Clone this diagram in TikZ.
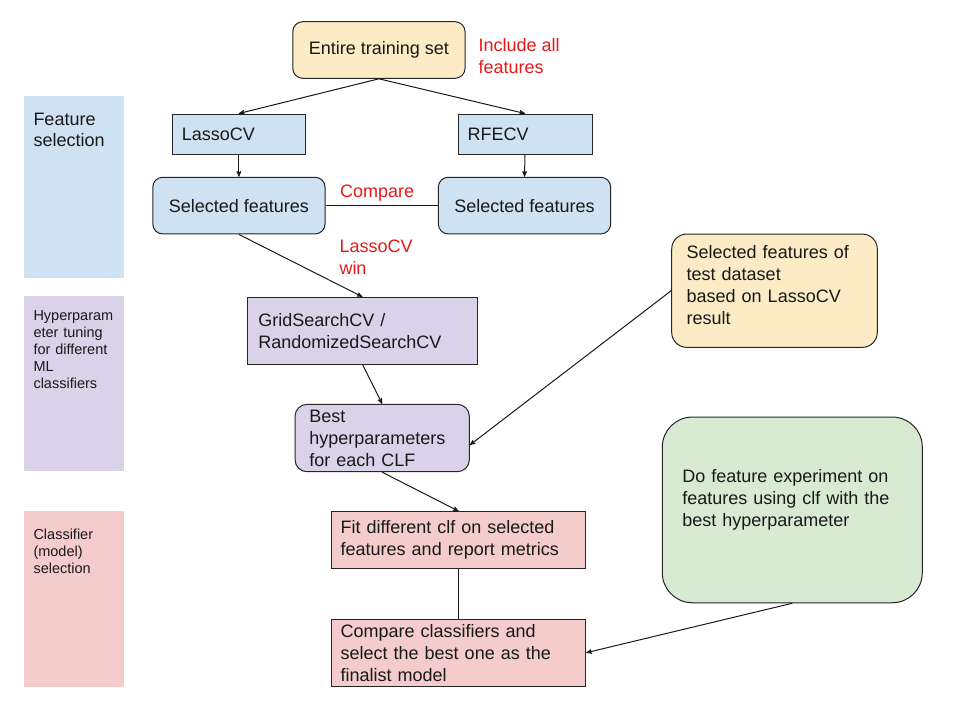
\documentclass[tikz,border=0pt]{standalone}
\usepackage{fontspec}
\setmainfont{Liberation Sans}
\usetikzlibrary{arrows,positioning}
\definecolor{lightyellow}{HTML}{FCEBC5}
\definecolor{lightblue}{HTML}{CFE2F3}
\definecolor{lightpurple}{HTML}{D9D2E9}
\definecolor{lightred}{HTML}{F4CCCC}
\definecolor{lightgreen}{HTML}{D9EAD3}
\definecolor{notered}{RGB}{232,24,24}
\tikzset{
    %Define standard arrow tip
    >=stealth',
    %Define style for boxes
    boks/.style={
           rectangle,
           draw=black!85, line width=1pt,
           inner sep=0pt,
           text=black!90,
           align=left,
           font=\fontsize{18}{22}\selectfont},
    rundboks/.style={
           boks,
           rounded corners=10pt,
           align=center},
    % Define style for the coloured side panels
    felt/.style={
           rectangle,
           inner sep=0pt,
           minimum width=100pt},
    feltnavn/.style={
           anchor=north west,
           inner sep=0pt,
           text width=88pt,
           align=left,
           text=black!90,
           font=\fontsize{14.5}{17}\selectfont},
    % red notes
    merknad/.style={
           anchor=north west,
           inner sep=0pt,
           align=left,
           text=notered,
           font=\fontsize{18}{22}\selectfont},
    % Define arrow style
    pil/.style={
           ->,
           line width=1pt,
           color=black!90},
    linje/.style={
           -,
           line width=1pt,
           color=black!90}
}
\begin{document}
\begin{tikzpicture}[x=1pt,y=-1pt]
\useasboundingbox (0,0) rectangle (960,720);
 %panels
\node[felt, fill=lightblue, minimum height=182.3pt](fs) at (74,187.2) {};
\node[feltnavn, font=\fontsize{18}{21}\selectfont](fstext) at (33.3,112.7) {Feature\\selection};
\node[felt, fill=lightpurple, minimum height=175pt](hp) at (74,383.5) {};
\node[feltnavn](hptext) at (33.3,310.7) {Hyperparam\\eter tuning\\for different\\ML\\classifiers};
\node[felt, fill=lightred, minimum height=175.7pt](cs) at (74,598.8) {};
\node[feltnavn](cstext) at (33.3,528.3) {Classifier\\(model)\\selection};

 %nodes
\node[rundboks, fill=lightyellow, minimum width=172.3pt, minimum height=56.6pt](train) at (378.9,50) {Entire training set};
\node[boks, fill=lightblue, minimum width=132.3pt, minimum height=40pt, text width=114.3pt](lasso) at (238.9,134) {LassoCV};
\node[boks, fill=lightblue, minimum width=134pt, minimum height=40pt, text width=114.6pt](rfecv) at (525,134) {RFECV};
\node[rundboks, fill=lightblue, minimum width=172.3pt, minimum height=56.7pt](selL) at (238.9,205.6) {Selected features};
\node[rundboks, fill=lightblue, minimum width=172.4pt, minimum height=56.7pt](selR) at (524.5,205.6) {Selected features};
\node[boks, fill=lightpurple, minimum width=230.4pt, minimum height=66.7pt, text width=208.4pt](grid) at (362.5,330.7) {GridSearchCV /\\RandomizedSearchCV};
\node[rundboks, fill=lightpurple, minimum width=174.3pt, minimum height=67.4pt, text width=145.7pt, align=left, rounded corners=12pt](best) at (382.2,438) {Best\\hyperparameters\\for each CLF};
\node[rundboks, fill=lightyellow, minimum width=205.6pt, minimum height=113.3pt, text width=175.6pt, align=left, rounded corners=15pt, text depth=78pt](test) at (774.5,290.7) {Selected features of\\test dataset\\based on LassoCV\\result};
\node[boks, fill=lightred, minimum width=254pt, minimum height=56.6pt, text width=236pt](fit) at (458.7,540) {Fit different clf on selected\\features and report metrics};
\node[boks, fill=lightred, minimum width=254pt, minimum height=66.7pt, text width=236pt](comp) at (458.7,652.7) {Compare classifiers and\\select the best one as the\\finalist model};
\node[rundboks, fill=lightgreen, minimum width=260pt, minimum height=185.7pt, text width=220pt, align=left, rounded corners=30pt, text depth=68pt](exp) at (792.3,509.9) {Do feature experiment on\\features using clf with the\\best hyperparameter};

 %notes
\node[merknad](n1) at (478.3,38.3) {Include all\\features};
\node[merknad](n2) at (340,185) {Compare};
\node[merknad](n3) at (339.3,240) {LassoCV\\win};

\path[pil]
    (train.south) edge (lasso.north)
                  edge (rfecv.north)
    (lasso.south) edge (selL.north)
    (rfecv.south) edge (selR.north)
    (selL.south) edge (grid.north)
    (grid.south) edge (best.north)
    (test.west) edge ([yshift=-7pt]best.east)
    (best.south) edge (fit.north)
    (exp.south) edge (comp.east);
\path[linje]
    (selL) edge (selR)
    (fit) edge (comp);

\end{tikzpicture}
\end{document}
